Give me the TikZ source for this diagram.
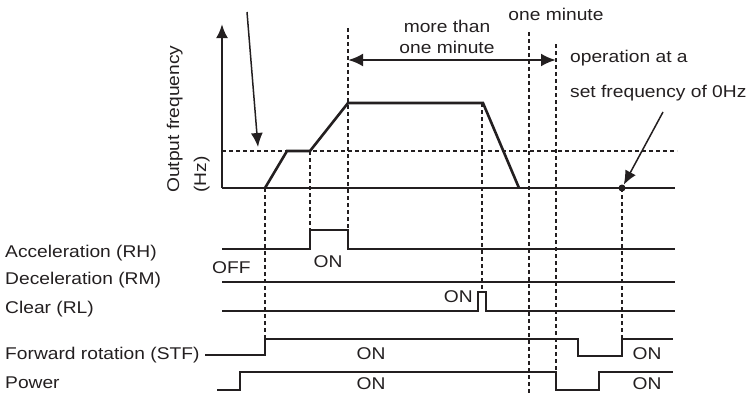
\documentclass[tikz,border=0pt]{standalone}
\usepackage{fontspec}
\setmainfont{Liberation Sans}[FakeStretch=1.13]
\usetikzlibrary{arrows.meta,positioning}
\definecolor{Ink}{HTML}{231F20}
\tikzset{
  sig/.style={line width=2.6pt, draw=Ink},
  guide/.style={line width=1.2pt, draw=Ink, dash pattern=on 4pt off 3pt},
  lbl/.style={font=\fontsize{17}{21}\selectfont, text=Ink, inner sep=0pt},
  arr/.style={-{Latex[length=14pt,width=12pt]}, line width=1.5pt, draw=Ink},
  dblarr/.style={{Latex[length=15pt,width=13pt]}-{Latex[length=15pt,width=13pt]}, line width=2.6pt, draw=Ink}
}
\begin{document}
\begin{tikzpicture}[x=1pt,y=-1pt]
\useasboundingbox (0,0) rectangle (755,394);
% axes and levels
\coordinate (origin) at (222,188);
\coordinate (ytop) at (222,24);
\coordinate (xend) at (675,188);
\draw[sig,-{Latex[length=14pt,width=12pt]}] (origin) -- (ytop);
\draw[sig] (origin) -- (xend);
\draw[guide] (222,151) -- (677,151);
\draw[sig] (265,188) -- (287,151) -- (310,151) -- (348,103) -- (483,103) -- (519,188);
% timing guides
\foreach \x/\ya/\yb in {265/188/340,310/151/230,348/28/230,482/103/292,529/32/394,556/44/372,622/188/339}{
  \draw[guide] (\x,\ya) -- (\x,\yb);
}
\draw[dblarr] (348,60) -- (556,60);
\node[lbl,anchor=base] (more) at (447,32) {more than};
\node[lbl,anchor=base] (more2) at (447,53) {one minute};
\node[lbl,anchor=base] (onemin) at (556,20) {one minute};
\node[lbl,anchor=base west] (opat) at (570,62) {operation at a};
\node[lbl,anchor=base west] (setf) at (570,97) {set frequency of 0Hz};
\node[circle,fill=Ink,inner sep=0pt,minimum size=7pt] (zero) at (622,188) {};
\coordinate (optail) at (663,112);
\draw[arr] (optail) -- (zero);
\coordinate (reftail) at (247,12);
\coordinate (reftip) at (258,147);
\draw[arr] (reftail) -- (reftip);
\node[lbl,rotate=90,anchor=base west] (outf) at (179,193) {Output frequency};
\node[lbl,rotate=90,anchor=base west] (hz) at (206,193) {(Hz)};
% signal names
\foreach \nm/\y/\txt in {rh/257/Acceleration (RH),rm/284/Deceleration (RM),rl/313/Clear (RL),stf/359/Forward rotation (STF),pw/388/Power}{
  \node[lbl,anchor=base west] (\nm) at (5,\y) {\txt};
}
% signals
\draw[sig] (222,249) -- (310,249) -- (310,230) -- (348,230) -- (348,249) -- (675,249);
\draw[sig] (222,282) -- (675,282);
\draw[sig] (222,311) -- (478,311) -- (478,292) -- (486,292) -- (486,311) -- (675,311);
\draw[sig] (205,355) -- (265,355) -- (265,339) -- (578,339) -- (578,356) -- (622,356) -- (622,339) -- (673,339);
\draw[sig] (217,390) -- (240,390) -- (240,372) -- (556,372) -- (556,390) -- (599,390) -- (599,372) -- (673,372);
\node[lbl,anchor=base west] (rhoff) at (212,273) {OFF};
\node[lbl,anchor=base] (rhon) at (328,267) {ON};
\node[lbl,anchor=base east] (rlon) at (473,302) {ON};
\node[lbl,anchor=base] (stfon) at (371,359) {ON};
\node[lbl,anchor=base] (stfon2) at (647,359) {ON};
\node[lbl,anchor=base] (pwon) at (371,389) {ON};
\node[lbl,anchor=base] (pwon2) at (647,389) {ON};
\end{tikzpicture}
\end{document}
